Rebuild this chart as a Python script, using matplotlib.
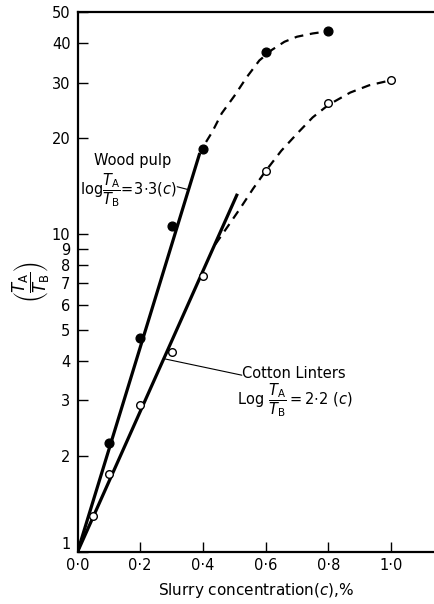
import matplotlib
matplotlib.use("Agg")
import matplotlib.pyplot as plt

plt.rcParams["font.family"] = "DejaVu Sans"
plt.rcParams["mathtext.fontset"] = "dejavusans"

# measured points
wood_c = [0.1, 0.2, 0.3, 0.4, 0.6, 0.8]
wood_t = [2.2, 4.7, 10.6, 18.5, 37.4, 43.5]
cotton_c = [0.05, 0.1, 0.2, 0.3, 0.4, 0.6, 0.8, 1.0]
cotton_t = [1.3, 1.76, 2.9, 4.27, 7.4, 15.8, 25.8, 30.5]

# straight-line fits (log T = k c), end points
wood_fit_c = [0.0, 0.39]
wood_fit_t = [1.0, 18.0]
cotton_fit_c = [0.0, 0.51]
cotton_fit_t = [1.0, 13.4]

# dashed hand-drawn continuations
wood_dash_c = [0.41, 0.43, 0.46, 0.50, 0.54, 0.58, 0.62, 0.66, 0.70, 0.75, 0.80]
wood_dash_t = [19.5, 21.0, 24.0, 27.2, 31.2, 35.2, 38.0, 40.3, 41.8, 42.8, 43.5]
cotton_dash_c = [0.44, 0.48, 0.52, 0.56, 0.60, 0.65, 0.70, 0.75, 0.80, 0.87, 0.93, 1.0]
cotton_dash_t = [9.3, 10.6, 12.1, 13.9, 15.8, 18.3, 20.7, 23.3, 25.5, 27.9, 29.4, 30.5]

x_ticks = [0.0, 0.2, 0.4, 0.6, 0.8, 1.0]
x_labels = ["0·0", "0·2", "0·4", "0·6", "0·8", "1·0"]
y_ticks = [1, 2, 3, 4, 5, 6, 7, 8, 9, 10, 20, 30, 40, 50]

fig = plt.figure(figsize=(4.34, 6.04), dpi=100)
ax = fig.add_axes([77.5 / 434, 52 / 604, 1 - 77.5 / 434, 540 / 604])

ax.plot(wood_fit_c, wood_fit_t, color="black", lw=2.3, solid_capstyle="butt")
ax.plot(cotton_fit_c, cotton_fit_t, color="black", lw=2.3, solid_capstyle="butt")
ax.plot(wood_dash_c, wood_dash_t, color="black", lw=1.6, dashes=(4, 3))
ax.plot(cotton_dash_c, cotton_dash_t, color="black", lw=1.6, dashes=(4, 3))

ax.plot(wood_c, wood_t, "o", ms=6.3, mfc="black", mec="black", zorder=5)
ax.plot(cotton_c, cotton_t, "o", ms=5.5, mfc="white", mec="black", mew=1.0, zorder=5)

ax.set_yscale("log")
ax.set_xlim(0, 1.137)
ax.set_ylim(1, 50)
ax.set_xticks(x_ticks)
ax.set_xticklabels(x_labels)
ax.set_yticks(y_ticks)
ax.set_yticklabels([str(v) for v in y_ticks])
ax.minorticks_off()
ax.tick_params(direction="in", length=7, width=1.0, labelsize=10.5, pad=4)
ax.tick_params(axis="y", pad=5)
ax.get_yticklabels()[0].set_verticalalignment("bottom")

for side in ["left", "bottom", "top"]:
    ax.spines[side].set_linewidth(1.6)
ax.spines["right"].set_visible(False)

ax.set_xlabel(r"Slurry concentration$(c)$,%", fontsize=11, labelpad=6)
ax.set_ylabel(r"$\left(\dfrac{T_\mathrm{A}}{T_\mathrm{B}}\right)$", fontsize=12,
              labelpad=0)

# annotations
fig.text(93.5 / 434, 1 - 160 / 604, "Wood pulp", fontsize=10.5, va="center")
fig.text(80 / 434, 1 - 190 / 604,
         r"$\mathrm{log}\dfrac{T_\mathrm{A}}{T_\mathrm{B}}\!=\!3{\cdot}3(c)$",
         fontsize=10.5, va="center", ha="left")
ax.annotate("", xy=(0.354, 13.8), xytext=(0.318, 14.1),
            arrowprops=dict(arrowstyle="-", lw=0.8, color="black",
                            shrinkA=0, shrinkB=0))

fig.text(242 / 434, 1 - 373 / 604, "Cotton Linters", fontsize=10.5,
         va="center", ha="left")
fig.text(237 / 434, 1 - 400 / 604,
         r"$\mathrm{Log}\ \dfrac{T_\mathrm{A}}{T_\mathrm{B}}=2{\cdot}2\ (c)$",
         fontsize=10.5, va="center", ha="left")
ax.annotate("", xy=(0.279, 4.05), xytext=(0.524, 3.6),
            arrowprops=dict(arrowstyle="-", lw=0.8, color="black",
                            shrinkA=0, shrinkB=0))

fig.savefig("out.png", dpi=100)
